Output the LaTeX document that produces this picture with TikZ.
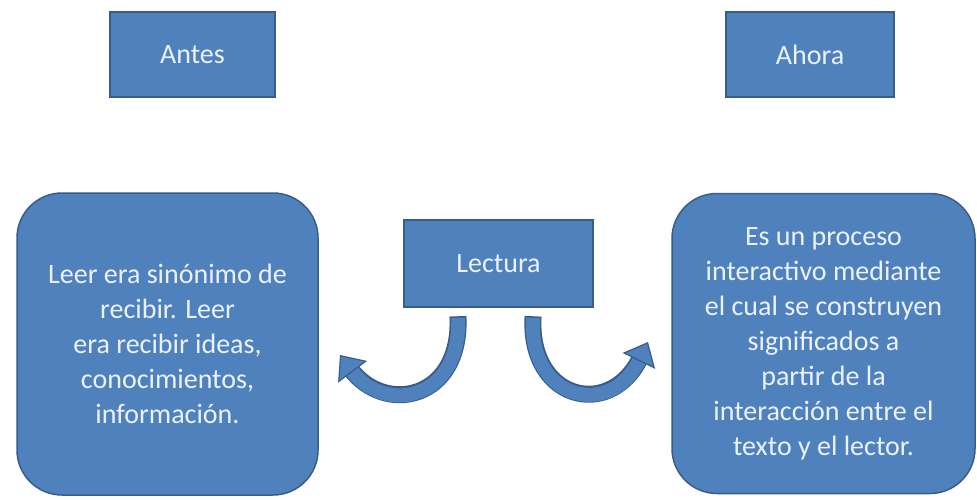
\documentclass[tikz,border=0pt]{standalone}
\usepackage{fontspec}
\setmainfont{Carlito}
\usetikzlibrary{arrows.meta,calc}
\definecolor{boxfill}{RGB}{79,129,189}
\definecolor{boxline}{RGB}{56,93,138}
\definecolor{boxtext}{RGB}{236,242,250}
\begin{document}
\begin{tikzpicture}[x=1pt,y=-1pt,
  box/.style={draw=boxline, line width=1.5pt, fill=boxfill, text=boxtext,
    font=\fontsize{28}{35}\selectfont, align=center, inner sep=0pt},
  bigbox/.style={box, rounded corners=45pt},
  arrowedge/.style={boxline, line width=17pt, shorten >=18pt, shorten <=-1.5pt},
  arrowbody/.style={boxfill, line width=14pt,
    -{Triangle[width=36pt,length=21pt,fill=boxfill,color=boxline,line width=1.2pt]}}]
\fill[white] (0,0) rectangle (977,500);
\useasboundingbox (0,0) rectangle (977,500);

\node[box, minimum width=165pt, minimum height=85pt] (antes) at (192.5,54.5) {Antes};
\node[box, minimum width=168pt, minimum height=85pt] (ahora) at (810,54.5) {Ahora};
\node[box, minimum width=189pt, minimum height=87pt] (lec) at (498.5,263.5) {Lectura};

\node[bigbox, minimum width=301pt, minimum height=302pt] (left) at (167.5,344)
  {Leer era sinónimo de\\recibir. Leer\\era recibir ideas,\\conocimientos,\\información.};
\node[bigbox, minimum width=303pt, minimum height=300pt] (right) at (823.5,343.5)
  {Es un proceso\\interactivo mediante\\el cual se construyen\\significados a\\partir de la\\interacción entre el\\texto y el lector.};

\coordinate (ls) at ([xshift=-40.5pt,yshift=-10pt]lec.south);
\coordinate (rs) at ([xshift=34.5pt,yshift=-10pt]lec.south);
\coordinate (le) at (340,355);
\coordinate (re) at (648,342);

\draw[arrowedge] (ls) .. controls (462,400) and (385,415) .. (le);
\draw[arrowbody] (ls) .. controls (462,400) and (385,415) .. (le);
\draw[arrowedge] (rs) .. controls (528,400) and (610,420) .. (re);
\draw[arrowbody] (rs) .. controls (528,400) and (610,420) .. (re);
\end{tikzpicture}
\end{document}
